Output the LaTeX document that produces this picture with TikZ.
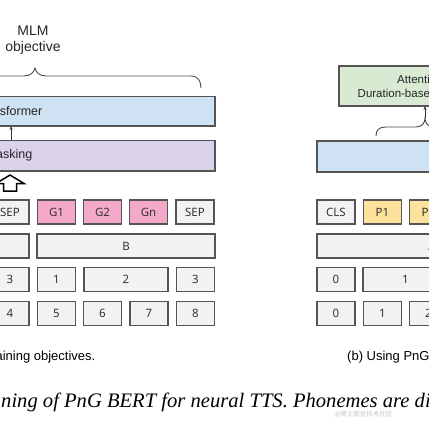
\documentclass[tikz,border=0pt]{standalone}
\usepackage{fontspec}
\usetikzlibrary{arrows.meta}
\newfontfamily\labf{Liberation Sans}
\newfontfamily\tokf{Noto Sans}
\newfontfamily\capf{Liberation Serif}
\newfontfamily\cjkf{Noto Sans CJK SC}
\definecolor{tokgray}{HTML}{F2F2F2}
\definecolor{edge}{HTML}{555555}
\definecolor{pinkf}{HTML}{F5A9C9}
\definecolor{yellowf}{HTML}{FCE29C}
\definecolor{bluef}{HTML}{CFE2F3}
\definecolor{lavf}{HTML}{DAD2E9}
\definecolor{greenf}{HTML}{D9EAD3}
\definecolor{txt}{HTML}{333333}
\tikzset{
  tokbox/.style={draw=edge, line width=1.2pt, fill=tokgray, minimum width=38pt, minimum height=24pt, inner sep=0pt, font=\tokf\fontsize{11.5}{13}\selectfont, text=txt},
  pinkbox/.style={tokbox, fill=pinkf},
  yelbox/.style={tokbox, fill=yellowf},
  layer/.style={draw=edge, line width=1.2pt},
  lab/.style={font=\labf\fontsize{12.5}{14}\selectfont, text=black!85, inner sep=0pt},
  brace/.style={draw=black!70, line width=0.9pt},
}
\begin{document}
\begin{tikzpicture}[x=1pt,y=-1pt]
\useasboundingbox (0,0) rectangle (429,429);
\clip (0,0) rectangle (429,429);
\fill[white] (0,0) rectangle (429,429);

% ---------- left panel ----------
\node[lab, align=center, font=\labf\fontsize{14}{16.5}\selectfont] (mlm) at (33,40) {MLM\\objective};
\draw[brace] (-5,76) -- (24,76) .. controls (31,76) and (34,72) .. (35,68)
  .. controls (36,72) and (39,76) .. (46,76) -- (191,76)
  .. controls (198,76) and (201,81) .. (201,88);

\path[layer, fill=bluef] (-100,96.5) rectangle (215,126);
\node[lab, anchor=east] (trf) at (42.5,111) {Transformer};
\path[layer, fill=lavf] (-100,140.5) rectangle (215,171);
\node[lab, anchor=east] (msk) at (32.5,155.5) {Masking};
\coordinate (mskTop) at (11,140);
\coordinate (trfBot) at (11,126);
\draw[-{Stealth[length=4pt,width=3pt]}, line width=0.7pt, black!80] (mskTop) -- (trfBot);

\draw[line width=1.5pt, line join=miter, fill=white] (10,175) -- (24,183.5) -- (16.5,183.5) -- (16.5,191) -- (3.5,191) -- (3.5,183.5) -- (-4,183.5) -- cycle;

% row 1
\node[tokbox] (sepA) at (10,212) {SEP};
\node[pinkbox] (g1) at (56.5,212) {G1};
\node[pinkbox] (g2) at (102.5,212) {G2};
\node[pinkbox] (gn) at (148.5,212) {Gn};
\node[tokbox] (sepB) at (195,212) {SEP};
% row 2
\node[tokbox, minimum width=150pt] (segA) at (-46,246) {};
\node[tokbox, minimum width=178pt] (segB) at (126,246) {B};
% row 3
\node[tokbox] (w3a) at (10,279.5) {3};
\node[tokbox] (w1) at (56.5,279.5) {1};
\node[tokbox, minimum width=84pt] (w2) at (126,279.5) {2};
\node[tokbox] (w3b) at (195.5,279.5) {3};
% row 4
\node[tokbox] (p4) at (10,313.5) {4};
\node[tokbox] (p5) at (56.5,313.5) {5};
\node[tokbox] (p6) at (102.5,313.5) {6};
\node[tokbox] (p7) at (149,313.5) {7};
\node[tokbox] (p8) at (195.5,313.5) {8};

\node[font=\labf\fontsize{13}{15}\selectfont, anchor=east, inner sep=0pt] (capa) at (95.5,357) {(a) Pre-training objectives.};

% ---------- right panel ----------
\path[layer, fill=greenf] (339,66) rectangle (600,106);
\node[lab, font=\labf\fontsize{11.5}{14}\selectfont, anchor=west] (att) at (397,79) {Attention};
\node[lab, font=\labf\fontsize{11.5}{14}\selectfont, anchor=west] (dur) at (357.5,93) {Duration-based};

\draw[brace] (376,136) .. controls (376,130) and (379,127) .. (386,127) -- (416,127)
  .. controls (422,127) and (425,123) .. (425,118)
  .. controls (425,123) and (428,127) .. (434,127) -- (470,127);
\coordinate (braceTip) at (425,118);
\coordinate (greenBot) at (425,106);
\draw[-{Stealth[length=4pt,width=3pt]}, line width=0.7pt, black!80] (braceTip) -- (greenBot);

\path[layer, fill=bluef] (317,141) rectangle (600,172);

\node[tokbox] (cls) at (336,212) {CLS};
\node[yelbox] (pp1) at (382.5,212) {P1};
\node[yelbox] (pp2) at (428.5,212) {P2};
\node[tokbox, minimum width=230pt] (segAr) at (432,246) {A};
\node[tokbox] (r30) at (336,279.5) {0};
\node[tokbox, minimum width=85pt] (r31) at (405.5,279.5) {1};
\node[tokbox] (r40) at (336,313.5) {0};
\node[tokbox] (r41) at (382.5,313.5) {1};
\node[tokbox] (r42) at (428.5,313.5) {2};

\node[font=\labf\fontsize{13}{15}\selectfont, anchor=west, inner sep=0pt] (capb) at (347,357) {(b) Using PnG BERT};

% ---------- figure caption ----------
\node[font=\capf\itshape\fontsize{20.6}{24}\selectfont, anchor=west, inner sep=0pt] (figcap) at (1,402) {ning of PnG BERT for neural TTS. Phonemes are displayed};
\node[font=\cjkf\fontsize{6.5}{7}\selectfont, text=black!22, anchor=west, inner sep=0pt] (wm) at (334,414) {@稀土掘金技术社区};
\end{tikzpicture}
\end{document}
